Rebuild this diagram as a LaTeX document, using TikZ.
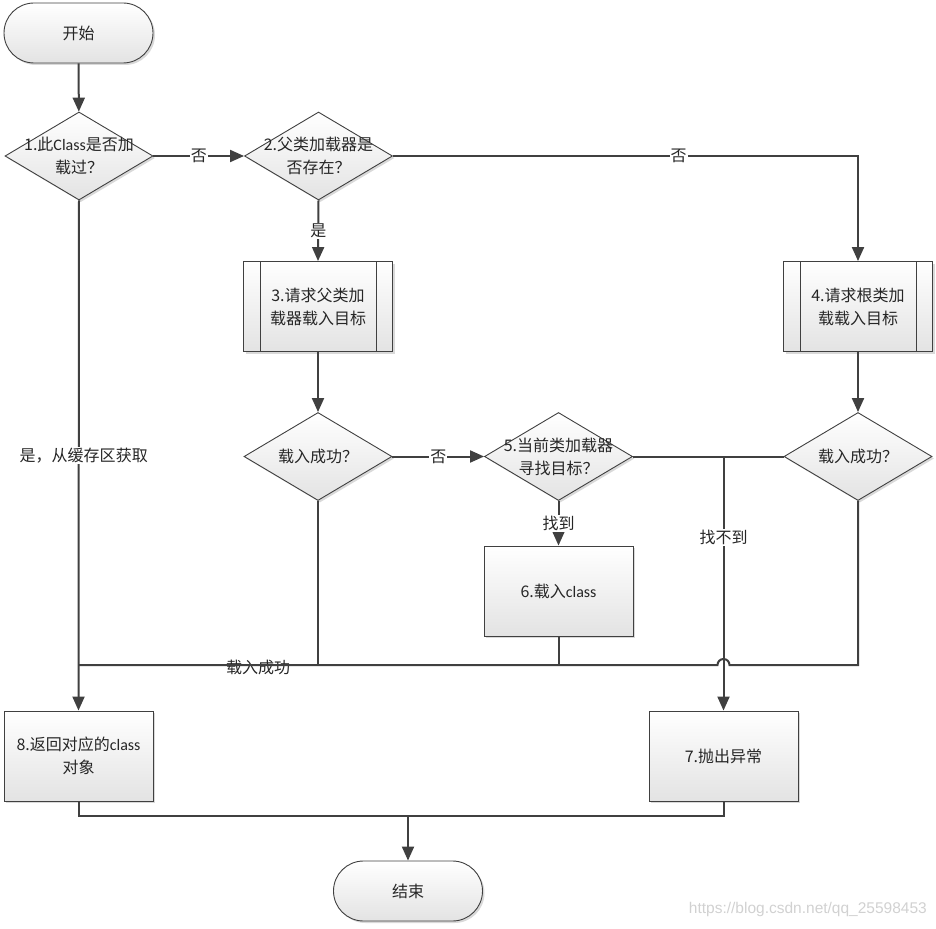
\documentclass[tikz,border=0pt]{standalone}
\usepackage{fontspec}
\setmainfont{Noto Sans CJK SC}
\newfontfamily\lat{Carlito}
\newfontfamily\wm{Liberation Sans}
\usetikzlibrary{shapes.geometric,shadows,arrows.meta}
\definecolor{ln}{HTML}{404040}
\definecolor{tx}{HTML}{262626}
\tikzset{
  base/.style={draw=ln, line width=0.9pt, top color=white, bottom color=black!11,
     drop shadow={shadow xshift=2pt, shadow yshift=-2pt, opacity=0.25, fill=black!60},
     inner sep=0pt, font=\fontsize{16}{23}\selectfont, text=tx, align=center},
  term/.style={base, rounded corners=30pt, minimum width=149pt, minimum height=60pt},
  proc/.style={base, minimum width=149pt, minimum height=90pt},
  dia/.style={base, diamond, minimum width=148pt, minimum height=88pt},
  line/.style={draw=ln, line width=2pt},
  arr/.style={line, -{Triangle[length=14pt,width=12pt]}},
  lbl/.style={fill=white, inner sep=1pt, text=tx, font=\fontsize{16}{19}\selectfont},
  plain/.style={inner sep=1pt, text=tx, font=\fontsize{16}{19}\selectfont},
  txt/.style={text=tx, font=\fontsize{16}{23}\selectfont, align=center},
}
\begin{document}
\begin{tikzpicture}[x=1pt,y=-1pt]
\useasboundingbox (0,0) rectangle (936,928);
% nodes
\node[term] (start) at (78.5,33) {开始};
\node[dia] (d1) at (79,156) {};
\node[txt] at (d1) {1.此{\lat Class}是否加\\载过？};
\node[dia] (d2) at (318.5,156) {};
\node[txt] at (d2) {2.父类加载器是\\否存在？};
\node[proc] (b3) at (318,306.5) {3.请求父类加\\载器载入目标};
\draw[ln, line width=0.9pt] ([xshift=17pt]b3.north west) -- ([xshift=17pt]b3.south west)
  ([xshift=-17pt]b3.north east) -- ([xshift=-17pt]b3.south east);
\node[proc] (b4) at (858,306.5) {4.请求根类加\\载载入目标};
\draw[ln, line width=0.9pt] ([xshift=17pt]b4.north west) -- ([xshift=17pt]b4.south west)
  ([xshift=-17pt]b4.north east) -- ([xshift=-17pt]b4.south east);
\node[dia] (d3) at (318,456.5) {};
\node[txt] at (d3) {载入成功？};
\node[dia] (d5) at (558.5,456.5) {};
\node[txt] at (d5) {5.当前类加载器\\寻找目标？};
\node[dia] (d4) at (858,456.5) {};
\node[txt] at (d4) {载入成功？};
\node[proc] (b6) at (558.5,591) {6.载入{\lat class}};
\node[proc] (b8) at (78.5,756) {8.返回对应的{\lat class}\\对象};
\node[proc] (b7) at (723.5,756) {7.抛出异常};
\node[term] (end) at (408,891) {结束};
\node[text=black!18, font=\wm\fontsize{15.5}{18}\selectfont, anchor=east, inner sep=0pt] (wmk) at (927,909) {https://blog.csdn.net/qq\_25598453};
% coordinates
\coordinate (j8) at (78.5,665);
\coordinate (c57) at (723.5,456.5);
\coordinate (jb) at (408,816);
% connectors
\draw[arr] (start) -- (d1);
\draw[arr] (d1.east) -- node[lbl]{否} (d2.west);
\draw[arr] (d2.east) -| node[lbl,pos=0.307]{否} (b4.north);
\draw[arr] (d2.south) -- node[lbl]{是} (b3.north);
\draw[arr] (b3) -- (d3);
\draw[arr] (b4) -- (d4);
\draw[arr] (d3.east) -- node[lbl]{否} (d5.west);
\draw[arr] (d5.south) -- node[lbl]{找到} (b6.north);
\draw[arr] (d1.south) -- node[lbl,xshift=5pt]{是，从缓存区获取} (b8.north);
\draw[line] (d3.south) |- node[plain,pos=0.625,yshift=-2pt]{载入成功} (j8);
\draw[line] (b6.south) |- (j8);
\draw[line] (d4.south) -- (858,665) -- (729.5,665) arc[start angle=0, end angle=-180, radius=6] -- (j8);
\draw[arr] (d5.east) -| node[lbl,pos=0.66]{找不到} (b7.north);
\draw[line] (d4.west) -- (c57);
\draw[line] (b8.south) |- (jb);
\draw[line] (b7.south) |- (jb);
\draw[arr] (jb) -- (end.north);
\end{tikzpicture}
\end{document}
